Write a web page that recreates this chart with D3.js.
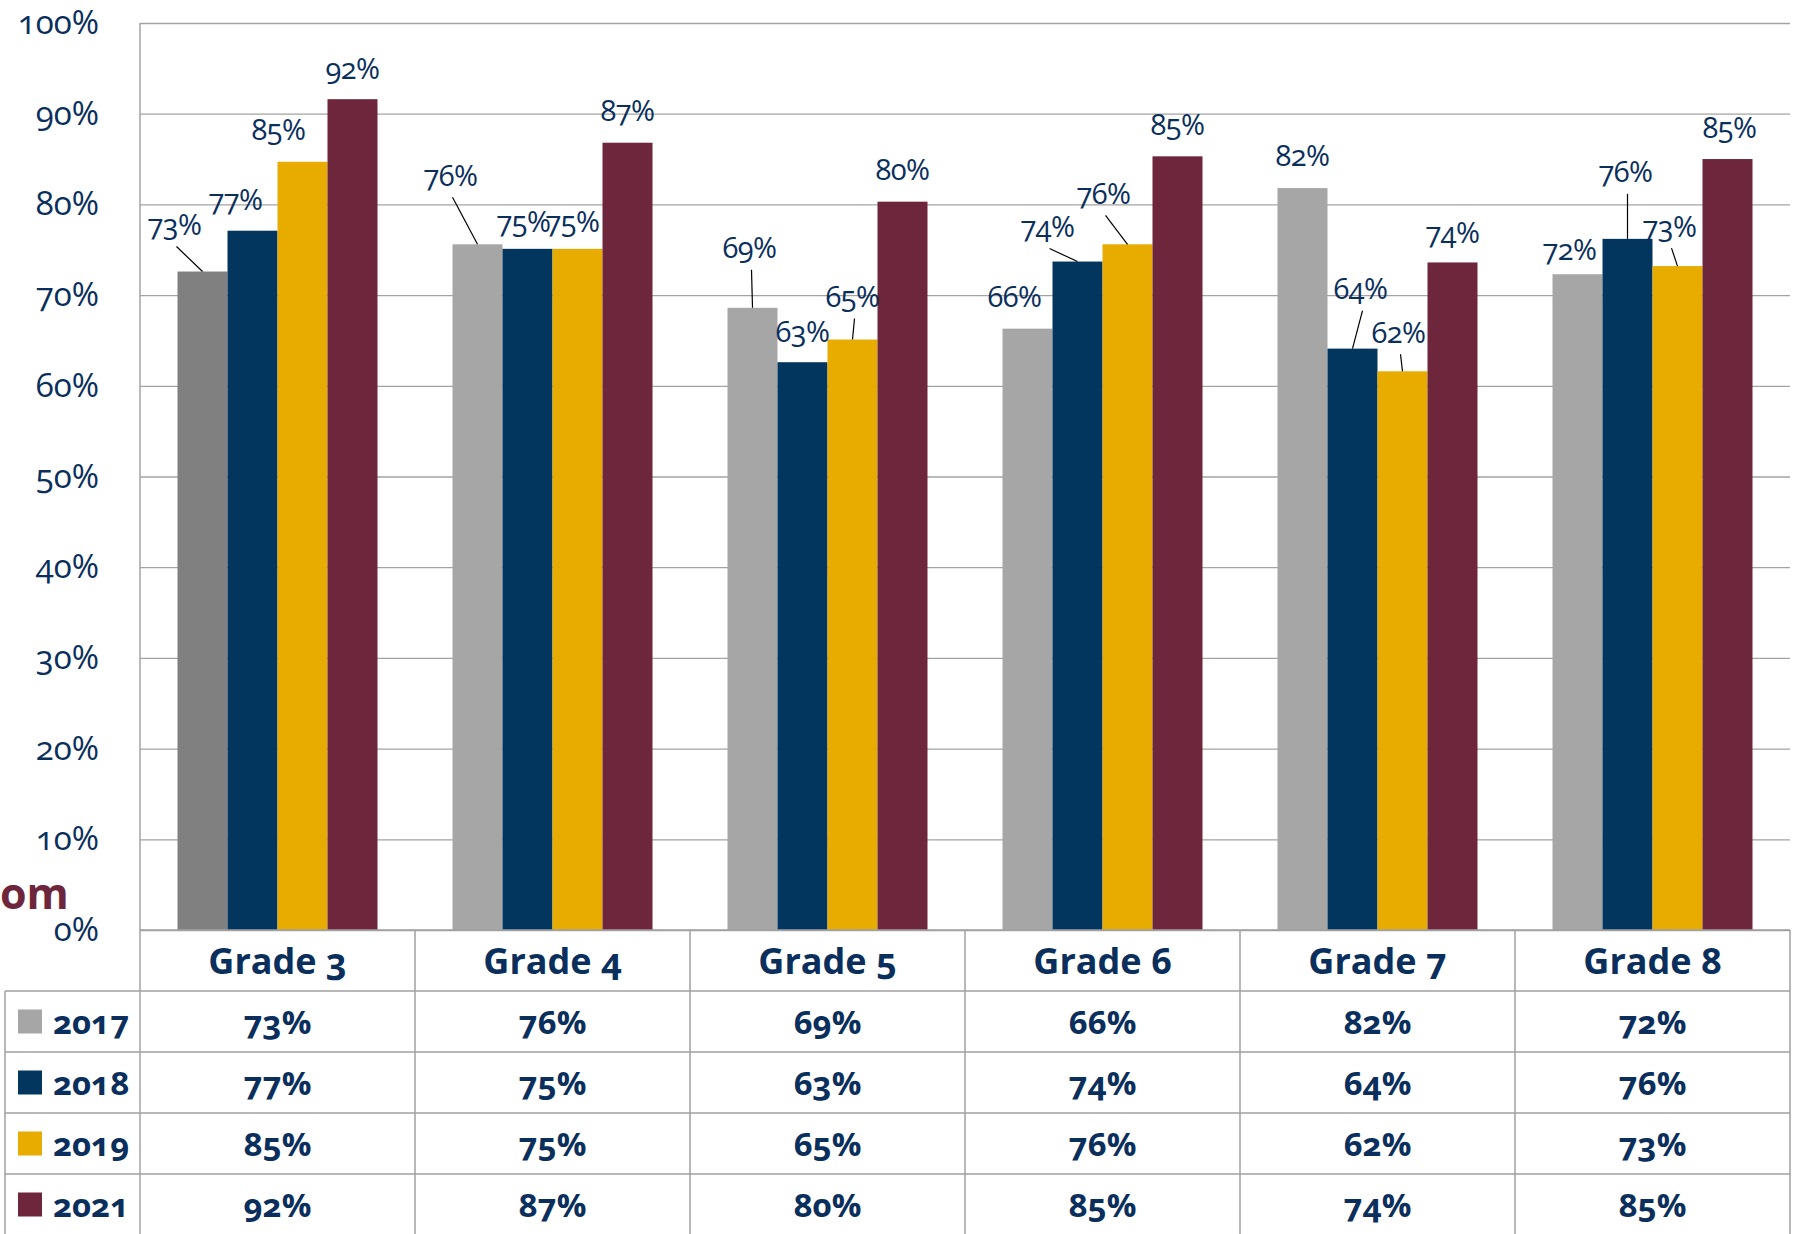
<!DOCTYPE html>
<html>
<head>
<meta charset="utf-8">
<script src="https://cdn.jsdelivr.net/npm/d3@7"></script>
<style>
  body { margin: 0; background: #fff; }
  svg text { font-family: "Open Sans", sans-serif; font-variant-numeric: oldstyle-nums; }
</style>
</head>
<body>
<div id="chart"></div>
<script>
// data
var grades = ["Grade 3", "Grade 4", "Grade 5", "Grade 6", "Grade 7", "Grade 8"];
var years = ["2017", "2018", "2019", "2021"];
var v2017 = [72.6, 75.6, 68.6, 66.3, 81.8, 72.3];
var v2018 = [77.1, 75.1, 62.6, 73.7, 64.1, 76.2];
var v2019 = [84.7, 75.1, 65.1, 75.6, 61.6, 73.2];
var v2021 = [91.6, 86.8, 80.3, 85.3, 73.6, 85.0];
var yTicks = [0, 10, 20, 30, 40, 50, 60, 70, 80, 90, 100];

var series = [v2017, v2018, v2019, v2021];
var colors = ["#a6a6a6", "#03365f", "#e8ab00", "#6d263b"];
var textColor = "#0a2f5c";

// label nudges (px, from the bar top centre), per year then grade
var nudge = [
  [[-28, -48], [-27, -70], [-3, -61], [-13, -33], [0, -34], [-8, -26]],
  [[-17, -32], [-4, -28], [0, -32], [-30, -36], [8, -61], [-2, -68]],
  [[-24, -33], [-5, -28], [0, -44], [-24, -52], [-4, -40], [-8, -41]],
  [[0, -32], [0, -33], [0, -33], [0, -33], [0, -31], [2, -33]]
];

var W = 1802, H = 1234;
var plotLeft = 140, plotRight = 1790, plotTop = 23, base = 930;
var rowH = 61;

var svg = d3.select("#chart").append("svg")
    .attr("width", W)
    .attr("height", H);

var x0 = d3.scaleBand().domain(grades).range([plotLeft, plotRight]).padding(0);
var x1 = d3.scaleBand().domain(years).range([0, x0.bandwidth()])
    .paddingInner(0).paddingOuter(0.75);
var y = d3.scaleLinear().domain([0, 100]).range([base, plotTop]);

// grid + y axis
var yAxis = svg.append("g")
    .attr("transform", "translate(" + plotLeft + ",0)")
    .call(d3.axisLeft(y).tickValues(yTicks).tickSize(-(plotRight - plotLeft)).tickPadding(41)
      .tickFormat(function(d) { return d + "%"; }));
yAxis.select(".domain").remove();
yAxis.selectAll(".tick line").attr("stroke", "#a3a3a3").attr("stroke-width", 1.3);
yAxis.selectAll(".tick text")
    .attr("fill", textColor)
    .style("font-size", "33px");

// vertical axis line through the table
svg.append("line")
    .attr("x1", plotLeft).attr("x2", plotLeft).attr("y1", plotTop).attr("y2", H)
    .attr("stroke", "#a3a3a3").attr("stroke-width", 1.5);

// bars
var cells = [];
series.forEach(function(vals, j) {
  vals.forEach(function(v, i) {
    cells.push({ g: grades[i], i: i, yr: years[j], j: j, v: v });
  });
});

svg.selectAll(".bar")
    .data(cells)
  .enter().append("rect")
    .attr("class", "bar")
    .attr("x", function(d) { return x0(d.g) + x1(d.yr); })
    .attr("y", function(d) { return y(d.v); })
    .attr("width", x1.bandwidth())
    .attr("height", function(d) { return base - y(d.v); })
    .attr("fill", function(d) { return (d.j == 0 && d.i == 0) ? "#808080" : colors[d.j]; });

// data labels
var fmt = function(v) { return Math.round(v) + "%"; };
cells.forEach(function(d) {
  var cx = x0(d.g) + x1(d.yr) + x1.bandwidth() / 2,
      ty = y(d.v),
      n = nudge[d.j][d.i],
      lx = cx + n[0], ly = ty + n[1];
  if (n[1] < -38 || n[0] < -25) {
    svg.append("line")
        .attr("x1", lx + 2).attr("y1", ly + 23)
        .attr("x2", cx).attr("y2", ty)
        .attr("stroke", "#000").attr("stroke-width", 1.2);
  }
  svg.append("text")
      .attr("x", lx).attr("y", ly)
      .attr("text-anchor", "middle")
      .attr("dominant-baseline", "central")
      .attr("fill", textColor)
      .style("font-size", "29px")
      .style("letter-spacing", "-0.5px")
      .text(fmt(d.v));
});

// cut-off title fragment
svg.append("text")
    .attr("x", 0).attr("y", 909)
    .attr("fill", "#6d263b")
    .style("font-size", "43px").style("font-weight", "bold")
    .text("om");

// data table
var grid = "#a0a0a0";
var tableLeft = 5;
var rowTop = base + rowH;
// horizontal lines
for (var r = 0; r <= years.length; r++) {
  svg.append("line")
      .attr("x1", tableLeft).attr("x2", plotRight)
      .attr("y1", rowTop + r * rowH).attr("y2", rowTop + r * rowH)
      .attr("stroke", grid).attr("stroke-width", 1.5);
}
svg.append("line")
    .attr("x1", plotLeft).attr("x2", plotRight).attr("y1", base).attr("y2", base)
    .attr("stroke", grid).attr("stroke-width", 1.5);
// vertical lines
grades.forEach(function(g) {
  svg.append("line")
      .attr("x1", x0(g) + x0.bandwidth()).attr("x2", x0(g) + x0.bandwidth())
      .attr("y1", base).attr("y2", H)
      .attr("stroke", grid).attr("stroke-width", 1.5);
});
svg.append("line")
    .attr("x1", tableLeft).attr("x2", tableLeft).attr("y1", rowTop).attr("y2", H)
    .attr("stroke", grid).attr("stroke-width", 1.5);

// header
svg.selectAll(".hdr")
    .data(grades)
  .enter().append("text")
    .attr("class", "hdr")
    .attr("x", function(d) { return x0(d) + x0.bandwidth() / 2; })
    .attr("y", base + rowH / 2)
    .attr("text-anchor", "middle")
    .attr("dominant-baseline", "central")
    .attr("fill", textColor)
    .style("font-size", "36px").style("font-weight", "bold")
    .text(function(d) { return d; });

// legend column
years.forEach(function(yr, j) {
  var cy = rowTop + j * rowH + rowH / 2;
  svg.append("rect")
      .attr("x", 18).attr("y", cy - 12).attr("width", 24).attr("height", 24)
      .attr("fill", colors[j]);
  svg.append("text")
      .attr("x", 53).attr("y", cy)
      .attr("dominant-baseline", "central")
      .attr("fill", textColor)
      .style("font-size", "33px").style("font-weight", "bold")
      .text(yr);
});

// table values
cells.forEach(function(d) {
  svg.append("text")
      .attr("x", x0(d.g) + x0.bandwidth() / 2)
      .attr("y", rowTop + d.j * rowH + rowH / 2)
      .attr("text-anchor", "middle")
      .attr("dominant-baseline", "central")
      .attr("fill", textColor)
      .style("font-size", "33px").style("font-weight", "bold")
      .text(fmt(d.v));
});
</script>
</body>
</html>
